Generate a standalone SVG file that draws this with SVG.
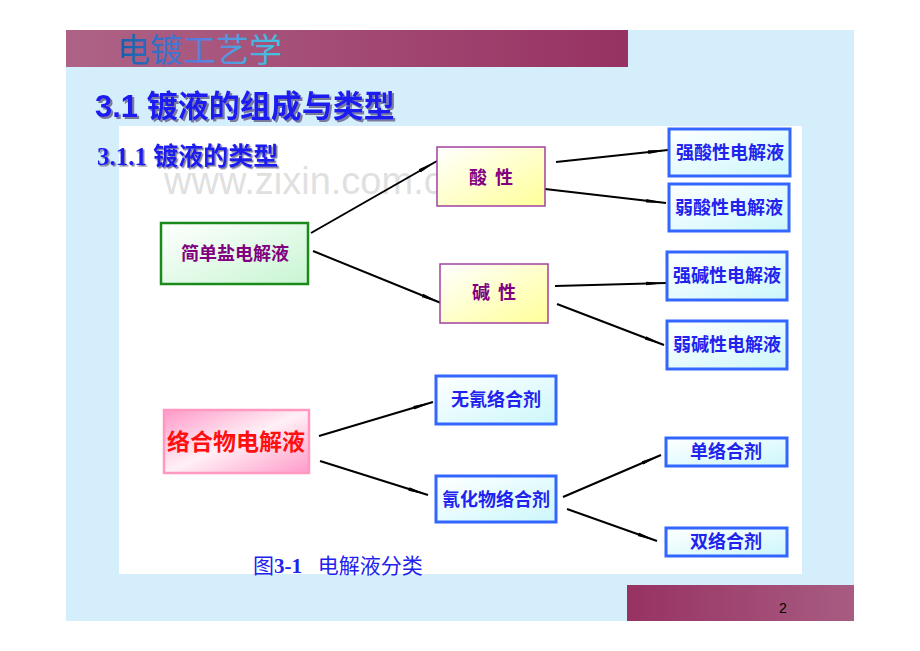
<svg xmlns="http://www.w3.org/2000/svg" width="920" height="651" viewBox="0 0 920 651">
<defs>
<linearGradient id="band" x1="0" y1="0" x2="1" y2="0"><stop offset="0" stop-color="#ae6386"/><stop offset="1" stop-color="#973262"/></linearGradient>
<linearGradient id="band2" x1="0" y1="0" x2="1" y2="0"><stop offset="0" stop-color="#973262"/><stop offset="1" stop-color="#a85c82"/></linearGradient>
<linearGradient id="htxt" x1="0" y1="0" x2="1" y2="0"><stop offset="0" stop-color="#1060a8"/><stop offset="0.5" stop-color="#5a7ee0"/><stop offset="1" stop-color="#40c8e0"/></linearGradient>
<linearGradient id="gGreen" x1="0" y1="0" x2="1" y2="1"><stop offset="0" stop-color="#ffffff"/><stop offset="1" stop-color="#c8f5d2"/></linearGradient>
<linearGradient id="gYellow" x1="0" y1="0" x2="1" y2="1"><stop offset="0" stop-color="#ffffff"/><stop offset="1" stop-color="#ffff99"/></linearGradient>
<linearGradient id="gCyan" x1="0" y1="0" x2="1" y2="1"><stop offset="0" stop-color="#ffffff"/><stop offset="1" stop-color="#ccf7fb"/></linearGradient>
<linearGradient id="gPink" x1="0" y1="0" x2="1" y2="1"><stop offset="0" stop-color="#ff99c8"/><stop offset="0.5" stop-color="#fff0f6"/><stop offset="1" stop-color="#ff99c8"/></linearGradient>
<filter id="shadow" x="-5%" y="-20%" width="110%" height="150%"><feDropShadow dx="2" dy="2" stdDeviation="0" flood-color="#7a7a9a"/></filter>
<filter id="shadow1" x="-5%" y="-20%" width="110%" height="150%"><feDropShadow dx="1.5" dy="1.5" stdDeviation="0" flood-color="#7a7a9a"/></filter>
<marker id="arr" viewBox="0 0 20 6" refX="20" refY="3" markerWidth="20" markerHeight="6" markerUnits="userSpaceOnUse" orient="auto"><path d="M0,1.2 L20,3 L0,4.8 Z" fill="#000"/></marker>
<style>
.cn{font-family:"Noto Sans CJK SC","Liberation Sans",sans-serif;font-weight:bold;}
.blue{fill:#2222ee;font-size:18px;}
.pur{fill:#800080;font-size:18px;}
.bx{fill:url(#gCyan);stroke:#3366ff;stroke-width:3;}
.conn line{stroke:#000;stroke-width:2;marker-end:url(#arr);}
</style>
</defs>
<rect x="0" y="0" width="920" height="651" fill="#ffffff"/>
<rect x="66" y="30" width="788" height="591" fill="#d5eefb"/>
<rect x="66" y="30" width="562" height="37" fill="url(#band)"/>
<text x="117" y="62" font-family="'Noto Sans CJK SC',sans-serif" font-size="33" fill="url(#htxt)">电镀工艺学</text>
<rect x="627" y="585" width="227" height="36" fill="url(#band2)"/>
<text x="783" y="613" font-family="'Liberation Sans',sans-serif" font-size="14" fill="#000" text-anchor="middle">2</text>
<text x="95" y="117" font-family="'Liberation Sans','Noto Sans CJK SC',sans-serif" font-size="31" font-weight="bold" fill="#1a1af0" filter="url(#shadow)">3.1 镀液的组成与类型</text>
<rect x="119" y="126" width="683" height="448" fill="#ffffff"/>
<text x="164" y="194" font-family="'Liberation Sans',sans-serif" font-size="38" fill="#d8d8d8" fill-opacity="0.8">www.zixin.com.cn</text>
<text x="97" y="165" font-family="'Liberation Serif','Noto Sans CJK SC',serif" font-size="25" font-weight="bold" fill="#1a1af0" filter="url(#shadow1)">3.1.1 镀液的类型</text>
<g class="conn">
<line x1="311" y1="233" x2="437" y2="161"/>
<line x1="313" y1="251" x2="441" y2="303"/>
<line x1="556" y1="162" x2="668" y2="150"/>
<line x1="545" y1="189" x2="666" y2="203"/>
<line x1="555" y1="286" x2="666" y2="283"/>
<line x1="557" y1="304" x2="664" y2="345"/>
<line x1="319" y1="436" x2="433" y2="402"/>
<line x1="320" y1="461" x2="428" y2="495"/>
<line x1="563" y1="497" x2="661" y2="455"/>
<line x1="567" y1="509" x2="657" y2="541"/>
</g>
<g id="n-simple"><rect x="161" y="223" width="147" height="61" fill="url(#gGreen)" stroke="#1a8a1a" stroke-width="2.5"/><text class="cn pur" x="235" y="260" text-anchor="middle">简单盐电解液</text></g>
<g id="n-acid"><rect x="437" y="147" width="108" height="59" fill="url(#gYellow)" stroke="#a040a0" stroke-width="1.5"/><text class="cn pur" x="491" y="184" text-anchor="middle" xml:space="preserve">酸  性</text></g>
<g id="n-base"><rect x="440" y="264" width="108" height="59" fill="url(#gYellow)" stroke="#a040a0" stroke-width="1.5"/><text class="cn pur" x="494" y="299" text-anchor="middle" xml:space="preserve">碱  性</text></g>
<g id="n-sa"><rect class="bx" x="669" y="129" width="121" height="47"/><text class="cn blue" x="730" y="159" text-anchor="middle">强酸性电解液</text></g>
<g id="n-wa"><rect class="bx" x="669" y="184" width="120" height="47"/><text class="cn blue" x="729" y="214" text-anchor="middle">弱酸性电解液</text></g>
<g id="n-sb"><rect class="bx" x="667" y="252" width="120" height="48"/><text class="cn blue" x="727" y="282" text-anchor="middle">强碱性电解液</text></g>
<g id="n-wb"><rect class="bx" x="667" y="321" width="120" height="48"/><text class="cn blue" x="727" y="351" text-anchor="middle">弱碱性电解液</text></g>
<g id="n-complex"><rect x="164" y="410" width="145" height="63" fill="url(#gPink)" stroke="#ff99c0" stroke-width="2.5"/><text class="cn" x="236" y="450" text-anchor="middle" font-size="23" fill="#ff1010">络合物电解液</text></g>
<g id="n-nocn"><rect class="bx" x="436" y="376" width="120" height="48"/><text class="cn blue" x="496" y="406" text-anchor="middle">无氰络合剂</text></g>
<g id="n-cn"><rect class="bx" x="436" y="476" width="120" height="46"/><text class="cn blue" x="496" y="506" text-anchor="middle">氰化物络合剂</text></g>
<g id="n-single"><rect class="bx" x="666" y="438" width="121" height="28"/><text class="cn blue" x="726" y="458" text-anchor="middle">单络合剂</text></g>
<g id="n-double"><rect class="bx" x="666" y="528" width="121" height="28"/><text class="cn blue" x="726" y="548" text-anchor="middle">双络合剂</text></g>
<text x="253" y="573" font-family="'Liberation Serif','Noto Sans CJK SC',serif" font-size="21" fill="#2222ee" xml:space="preserve">图<tspan font-weight="bold">3-1</tspan>   电解液分类</text>
</svg>
